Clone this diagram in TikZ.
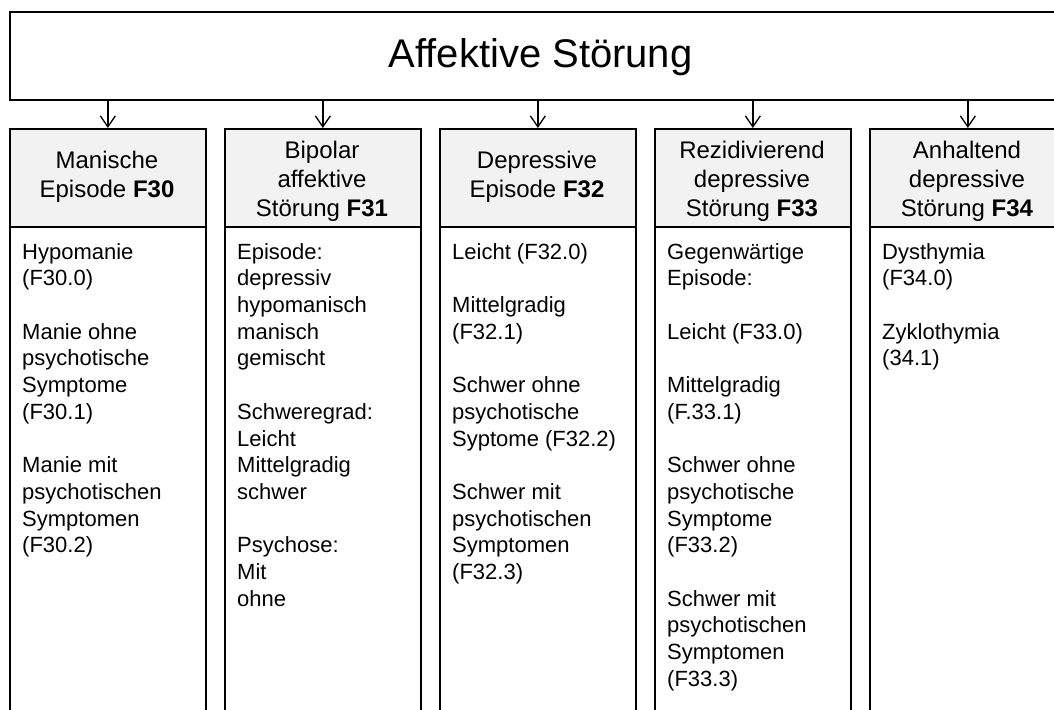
\documentclass[tikz,border=0pt]{standalone}
\usepackage{fontspec}
\setmainfont{Liberation Sans}
\usetikzlibrary{arrows.meta}
\definecolor{hdrgray}{HTML}{F2F2F2}
\begin{document}
\begin{tikzpicture}[x=1pt,y=-1pt,
  box/.style={draw=black, line width=1.7pt},
  hdr/.style={box, fill=hdrgray, minimum width=196pt, minimum height=98pt, anchor=north west, inner sep=0pt},
  hdrtxt/.style={align=center, font=\fontsize{24}{29}\selectfont, inner sep=0pt, anchor=north},
  bodybox/.style={box, minimum width=196pt, minimum height=520pt, anchor=north west, inner sep=0pt},
  bodytxt/.style={align=left, font=\fontsize{22}{26.7}\selectfont, inner sep=0pt, anchor=north west},
  conn/.style={-{Straight Barb[length=11pt,width=15pt,line width=1.3pt]}, line width=1.3pt}
]
\path[use as bounding box, clip] (0,0) rectangle (1054,709);
\fill[white] (0,0) rectangle (1054,709);

% title
\node[box, minimum width=1063pt, minimum height=88pt, anchor=north west, inner sep=0pt] (title) at (9,11) {};
\node[font=\fontsize{40}{48}\selectfont, anchor=base, inner sep=0pt] (ttext) at (540.5,67) {Affektive Störung};

% body boxes
\node[bodybox] (b1) at (9,226) {};
\node[bodybox] (b2) at (224,226) {};
\node[bodybox] (b3) at (439,226) {};
\node[bodybox] (b4) at (654,226) {};
\node[bodybox] (b5) at (869,226) {};

% header boxes
\node[hdr] (h1) at (9,128) {};
\node[hdr] (h2) at (224,128) {};
\node[hdr] (h3) at (439,128) {};
\node[hdr] (h4) at (654,128) {};
\node[hdr] (h5) at (869,128) {};

% header texts
\node[hdrtxt] (t1) at (107,151) {Manische\\Episode \textbf{F30}};
\node[hdrtxt] (t2) at (322,141) {Bipolar\\affektive\\Störung \textbf{F31}};
\node[hdrtxt] (t3) at (537,151) {Depressive\\Episode \textbf{F32}};
\node[hdrtxt] (t4) at (752,141) {Rezidivierend\\depressive\\Störung \textbf{F33}};
\node[hdrtxt] (t5) at (967,141) {Anhaltend\\depressive\\Störung \textbf{F34}};

% body texts
\node[bodytxt] (c1) at (22,243) {Hypomanie\\(F30.0)\\[26.7pt]Manie ohne\\psychotische\\Symptome\\(F30.1)\\[26.7pt]Manie mit\\psychotischen\\Symptomen\\(F30.2)};
\node[bodytxt] (c2) at (237,243) {Episode:\\depressiv\\hypomanisch\\manisch\\gemischt\\[26.7pt]Schweregrad:\\Leicht\\Mittelgradig\\schwer\\[26.7pt]Psychose:\\Mit\\ohne};
\node[bodytxt] (c3) at (452,243) {Leicht (F32.0)\\[26.7pt]Mittelgradig\\(F32.1)\\[26.7pt]Schwer ohne\\psychotische\\Syptome (F32.2)\\[26.7pt]Schwer mit\\psychotischen\\Symptomen\\(F32.3)};
\node[bodytxt] (c4) at (667,243) {Gegenwärtige\\Episode:\\[26.7pt]Leicht (F33.0)\\[26.7pt]Mittelgradig\\(F.33.1)\\[26.7pt]Schwer ohne\\psychotische\\Symptome\\(F33.2)\\[26.7pt]Schwer mit\\psychotischen\\Symptomen\\(F33.3)};
\node[bodytxt] (c5) at (882,243) {Dysthymia\\(F34.0)\\[26.7pt]Zyklothymia\\(34.1)};

% connectors
\foreach \h in {h1,h2,h3,h4,h5}
  \draw[conn] (title.south -| \h.north) -- (\h.north);
\end{tikzpicture}
\end{document}
